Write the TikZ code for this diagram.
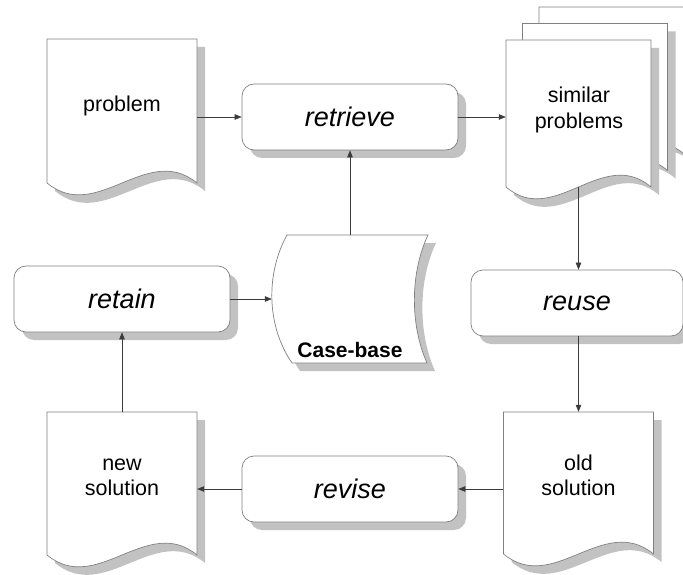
\documentclass[tikz,border=0pt]{standalone}
\usepackage{fontspec}
\setmainfont{Liberation Sans}
\usetikzlibrary{arrows.meta,shadows}
\definecolor{shadowgray}{RGB}{194,194,194}
\definecolor{edgegray}{RGB}{128,128,128}
\definecolor{linegray}{RGB}{60,60,60}
\tikzset{
  outline/.style={draw=edgegray, line width=0.7pt, fill=white},
  shadowfill/.style={fill=shadowgray, draw=none},
  frame/.style={rectangle, inner sep=0pt, draw=none},
  procbox/.style={rectangle, rounded corners=12pt, draw=edgegray, line width=0.7pt,
    fill=white, minimum width=216pt, minimum height=66pt, inner sep=0pt,
    font=\fontsize{27}{32}\selectfont\itshape,
    general shadow={fill=shadowgray, shadow xshift=8pt, shadow yshift=-8pt}},
  doclabel/.style={font=\fontsize{21.5}{25.7}\selectfont, inner sep=0pt, anchor=base},
  baselabel/.style={font=\fontsize{21}{25}\selectfont\bfseries, inner sep=0pt, anchor=base},
  flow/.style={draw=linegray, line width=0.6pt, -{Triangle[length=7pt,width=5.5pt]}},
}
% document shape with shadow: x, y (top-left), width, height
\newcommand\docshape[4]{%
  \fill[shadowfill, shift={(8,8)}] (#1,#2) -- ({#1+#3},#2) -- ({#1+#3},{#2+#4})
    .. controls ({#1+2*#3/3},{#2+#4-41}) and ({#1+#3/3},{#2+#4+41}) .. (#1,{#2+#4}) -- cycle;
  \draw[outline] (#1,#2) -- ({#1+#3},#2) -- ({#1+#3},{#2+#4})
    .. controls ({#1+2*#3/3},{#2+#4-41}) and ({#1+#3/3},{#2+#4+41}) .. (#1,{#2+#4}) -- cycle;
}
\begin{document}
\begin{tikzpicture}[x=1pt, y=-1pt]
\useasboundingbox (0,0) rectangle (683,575);
\clip (0,0) rectangle (683,575);

% problem
\docshape{47}{39}{150}{144}
\node[frame, minimum width=150pt, minimum height=144pt] (problem) at (122,111) {};
\node[doclabel] (problemtext) at (122,111.7) {problem};

% similar problems (stack of three pages)
\docshape{539}{7}{145}{147}
\docshape{522.5}{23.5}{145}{147}
\docshape{506}{40}{145}{147}
\node[frame, minimum width=145pt, minimum height=147pt] (simfront) at (578.5,113.5) {};
\node[doclabel] (simtext) at (579,102.7)
  {\begin{tabular}[t]{@{}c@{}}similar\\problems\end{tabular}};

% new solution
\docshape{47}{412}{150}{143}
\node[frame, minimum width=150pt, minimum height=143pt] (newsol) at (122,483.5) {};
\node[doclabel] (newsoltext) at (122,470)
  {\begin{tabular}[t]{@{}c@{}}new\\solution\end{tabular}};

% old solution
\docshape{503.5}{412}{150}{142}
\node[frame, minimum width=150pt, minimum height=142pt] (oldsol) at (578.5,483) {};
\node[doclabel] (oldsoltext) at (578.5,470)
  {\begin{tabular}[t]{@{}c@{}}old\\solution\end{tabular}};

% case-base (stored data)
\fill[shadowfill, shift={(8,8)}] (287,235) -- (428,235)
  .. controls (410,273) and (410,325) .. (427,363) -- (292,363)
  .. controls (266,325) and (266,273) .. (287,235) -- cycle;
\draw[outline] (287,235) -- (428,235)
  .. controls (410,273) and (410,325) .. (427,363) -- (292,363)
  .. controls (266,325) and (266,273) .. (287,235) -- cycle;
\node[frame, minimum width=156pt, minimum height=128pt] (casebase) at (350,299) {};
\node[baselabel] (casebasetext) at (350,357) {Case-base};

% process boxes
\node[procbox] (retrieve) at (350,117) {retrieve};
\node[procbox] (retain) at (122,299) {retain};
\node[procbox, minimum width=212pt] (reuse) at (577,303) {reuse};
\node[procbox] (revise) at (350,489) {revise};

% connectors
\draw[flow] (problem.east |- retrieve.west) -- (retrieve.west);
\draw[flow] (retrieve.east) -- (simfront.west |- retrieve.east);
\draw[flow] (casebase.north) -- (retrieve.south);
\draw[flow] (retain.east) -- (casebase.west |- retain.east);
\draw[flow] (simfront.south) -- (simfront.south |- reuse.north);
\draw[flow] (reuse.south -| oldsol.north) -- (oldsol.north);
\draw[flow] (oldsol.west |- revise.east) -- (revise.east);
\draw[flow] (revise.west) -- (newsol.east |- revise.west);
\draw[flow] (newsol.north) -- (retain.south);
\end{tikzpicture}
\end{document}
